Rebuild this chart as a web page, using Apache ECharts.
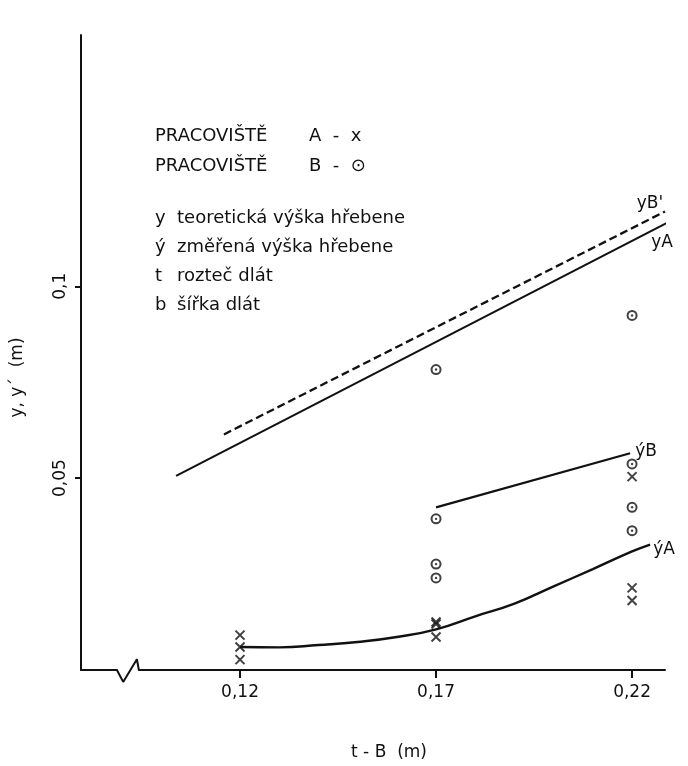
<!DOCTYPE html>
<html>
<head>
<meta charset="utf-8">
<script src="https://cdn.jsdelivr.net/npm/echarts@6/dist/echarts.min.js"></script>
<style>
html,body{margin:0;padding:0;background:#fff;}
#chart{width:688px;height:766px;}
</style>
</head>
<body>
<div id="chart"></div>
<script>
// ---- data ----
const xTicks = [0.12, 0.17, 0.22];
const yTicks = [0.05, 0.1];

// Pracoviště A (x marks)
const crossX = [0.12, 0.12, 0.12, 0.17, 0.17, 0.17, 0.22, 0.22, 0.22];
const crossY = [0.0091, 0.0060, 0.0027, 0.0125, 0.0120, 0.0086, 0.0504, 0.0214, 0.0181];

// Pracoviště B (circle marks)
const circleX = [0.17, 0.17, 0.17, 0.17, 0.22, 0.22, 0.22, 0.22];
const circleY = [0.0783, 0.0394, 0.0276, 0.0240, 0.0924, 0.0537, 0.0424, 0.0363];

// theoretical height y (A solid, B' dashed)
const yAx = [0.1037, 0.2322];
const yAy = [0.0506, 0.1183];
const yBx = [0.1159, 0.2284];
const yBy = [0.0614, 0.1195];

// measured height y'
const ypBx = [0.17, 0.2195];
const ypBy = [0.0424, 0.0565];
const ypAx = [0.12, 0.13, 0.14, 0.15, 0.16, 0.17, 0.18, 0.19, 0.20, 0.21, 0.22, 0.2246];
const ypAy = [0.0060, 0.0059, 0.0065, 0.0073, 0.0086, 0.0106, 0.0140, 0.0173, 0.0218, 0.0263, 0.0309, 0.0327];

// axis break mark on the x axis
const breakX = [0.0886, 0.0902, 0.0937, 0.0942];
const breakY = [0, -0.0031, 0.0028, 0];

// legend / explanation texts
const legendRows = [
  ['PRACOVIŠTĚ', 'A  -  x'],
  ['PRACOVIŠTĚ', 'B  -  ⊙']
];
const noteRows = [
  ['y', 'teoretická výška hřebene'],
  ['ý', 'změřená výška hřebene'],
  ['t', 'rozteč dlát'],
  ['b', 'šířka dlát']
];

// ---- chart ----
const pairs = (xs, ys) => xs.map((x, i) => [x, ys[i]]);
const INK = '#111111';
const FONT = '"DejaVu Sans", sans-serif';
const fmt = v => String(v).replace('.', ',');

const chart = echarts.init(document.getElementById('chart'), null, {renderer: 'canvas'});

const lineBase = {
  type: 'line', showSymbol: false, symbol: 'none', clip: false, silent: true,
  smooth: false, z: 3
};
function endLab(text, offset) {
  return {
    show: true, formatter: text, color: INK, fontSize: 17, fontFamily: FONT,
    offset: offset, distance: 0, align: 'center', verticalAlign: 'middle'
  };
}

const graphics = [];
legendRows.forEach((r, i) => {
  const y = 136 + i * 30;
  graphics.push({type: 'text', x: 155, y: y, style: {text: r[0], font: '18px ' + FONT, fill: INK, verticalAlign: 'middle'}});
  graphics.push({type: 'text', x: 309, y: y, style: {text: r[1], font: '18px ' + FONT, fill: INK, verticalAlign: 'middle'}});
});
noteRows.forEach((r, i) => {
  const y = 218 + i * 29;
  graphics.push({type: 'text', x: 155, y: y, style: {text: r[0], font: '18px ' + FONT, fill: INK, verticalAlign: 'middle'}});
  graphics.push({type: 'text', x: 177, y: y, style: {text: r[1], font: '18px ' + FONT, fill: INK, verticalAlign: 'middle'}});
});

const option = {
  backgroundColor: '#ffffff',
  animation: false,
  grid: {left: 81, right: 23, top: 35, bottom: 85, containLabel: false},
  xAxis: {
    type: 'value', min: 0.07944, max: 0.2284,
    name: 't - B  (m)', nameLocation: 'middle', nameGap: 74,
    nameTextStyle: {color: INK, fontSize: 17, fontFamily: FONT, padding: [0, 0, 0, 32]},
    axisLine: {show: true, onZero: false, lineStyle: {color: INK, width: 2}},
    axisTick: {show: true, customValues: xTicks, length: 8, inside: false, lineStyle: {color: INK, width: 2}},
    axisLabel: {show: true, customValues: xTicks, formatter: fmt, color: INK, fontSize: 17, fontFamily: FONT, margin: 14},
    splitLine: {show: false}
  },
  yAxis: {
    type: 'value', min: 0, max: 0.1655,
    name: 'y, y´  (m)', nameLocation: 'middle', nameGap: 55,
    nameTextStyle: {color: INK, fontSize: 17, fontFamily: FONT, padding: [0, 50, 0, 0]},
    axisLine: {show: true, onZero: false, lineStyle: {color: INK, width: 2}},
    axisTick: {show: true, customValues: yTicks, length: 6, lineStyle: {color: INK, width: 2}},
    axisLabel: {show: true, customValues: yTicks, formatter: fmt, rotate: 90, color: INK, fontSize: 17, fontFamily: FONT, margin: 12},
    splitLine: {show: false}
  },
  graphic: graphics,
  series: [
    Object.assign({}, lineBase, {
      name: 'break-mask', data: pairs([breakX[0] + 0.0002, breakX[3] - 0.0002], [0, 0]),
      lineStyle: {color: '#ffffff', width: 5}, z: 4
    }),
    Object.assign({}, lineBase, {
      name: 'break', data: pairs(breakX, breakY),
      lineStyle: {color: INK, width: 2}, z: 5
    }),
    Object.assign({}, lineBase, {
      name: 'yA', data: pairs(yAx, yAy),
      lineStyle: {color: INK, width: 2},
      endLabel: endLab('yA', [-4, 19])
    }),
    Object.assign({}, lineBase, {
      name: "yB'", data: pairs(yBx, yBy),
      lineStyle: {color: INK, width: 2.3, type: [8, 4]},
      endLabel: endLab("yB'", [-15, -8])
    }),
    Object.assign({}, lineBase, {
      name: "y'B", data: pairs(ypBx, ypBy),
      lineStyle: {color: INK, width: 2.2},
      endLabel: endLab('ýB', [16, -2])
    }),
    Object.assign({}, lineBase, {
      name: "y'A", data: pairs(ypAx, ypAy), smooth: true,
      lineStyle: {color: INK, width: 2.4},
      endLabel: endLab('ýA', [14, 5])
    }),
    {
      name: 'Pracoviště A', type: 'scatter', data: pairs(crossX, crossY), clip: false,
      symbol: 'path://M0,0L10,10M10,0L0,10', symbolSize: 9,
      itemStyle: {color: 'rgba(0,0,0,0)', borderColor: INK, borderWidth: 2}, z: 6, silent: true
    },
    {
      name: 'Pracoviště B', type: 'scatter', data: pairs(circleX, circleY), clip: false,
      symbol: 'circle', symbolSize: 9,
      itemStyle: {color: '#ffffff', borderColor: INK, borderWidth: 2}, z: 6, silent: true
    },
    {
      name: 'Pracoviště B (centre)', type: 'scatter', data: pairs(circleX, circleY), clip: false,
      symbol: 'circle', symbolSize: 2.4,
      itemStyle: {color: INK}, z: 7, silent: true
    }
  ]
};
chart.setOption(option);
</script>
</body>
</html>
